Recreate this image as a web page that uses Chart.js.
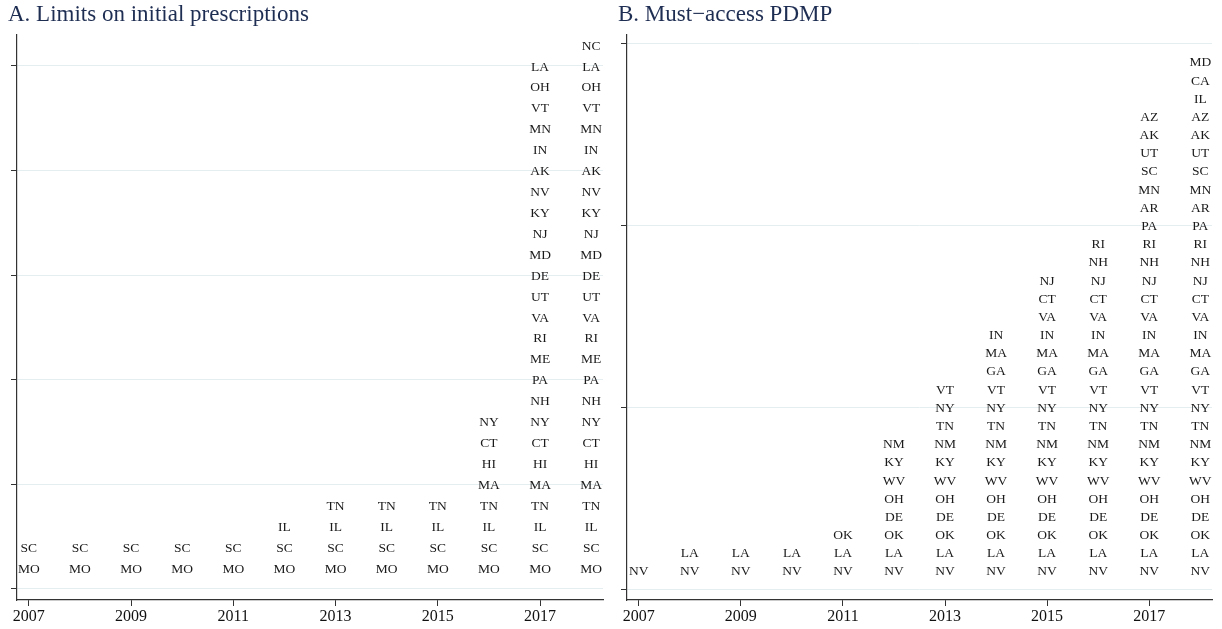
<!DOCTYPE html>
<html>
<head>
<meta charset="utf-8">
<script src="https://cdn.jsdelivr.net/npm/chart.js@4/dist/chart.umd.min.js"></script>
<style>
  body { margin: 0; background: white; }
  .wrap { display: flex; width: 1222px; height: 629px; }
  .panel { width: 611px; height: 629px; }
</style>
</head>
<body>
<div class="wrap">
  <div class="panel"><canvas id="chartA" width="611" height="629"></canvas></div>
  <div class="panel"><canvas id="chartB" width="611" height="629"></canvas></div>
</div>

<script>
  const years = [2007, 2008, 2009, 2010, 2011, 2012, 2013, 2014, 2015, 2016, 2017, 2018]
  const yearTicks = [2007, 2009, 2011, 2013, 2015, 2017]

  // stacking order of states (bottom to top) and how many are stacked each year
  const statesA = ['MO', 'SC', 'IL', 'TN', 'MA', 'HI', 'CT', 'NY', 'NH', 'PA', 'ME', 'RI', 'VA',
    'UT', 'DE', 'MD', 'NJ', 'KY', 'NV', 'AK', 'IN', 'MN', 'VT', 'OH', 'LA', 'NC']
  const countsA = [2, 2, 2, 2, 2, 3, 4, 4, 4, 8, 25, 26]
  const yTicksA = [0, 5, 10, 15, 20, 25]

  const statesB = ['NV', 'LA', 'OK', 'DE', 'OH', 'WV', 'KY', 'NM', 'TN', 'NY', 'VT', 'GA', 'MA',
    'IN', 'VA', 'CT', 'NJ', 'NH', 'RI', 'PA', 'AR', 'MN', 'SC', 'UT', 'AK', 'AZ', 'IL', 'CA', 'MD']
  const countsB = [1, 2, 2, 2, 3, 8, 11, 14, 17, 19, 26, 29]
  const yTicksB = [0, 10, 20, 30]

  const titleA = 'A. Limits on initial prescriptions'
  const titleB = 'B. Must\u2212access PDMP'

  const serif = '"Liberation Serif", "Times New Roman", serif'

  function buildPoints(states, counts) {
    const pts = []
    years.forEach((yr, i) => {
      for (let k = 0; k < counts[i]; k++) {
        pts.push({ x: yr, y: k + 1, s: states[k] })
      }
    })
    return pts
  }

  // writes each state abbreviation at its point position
  const stateLabels = {
    id: 'stateLabels',
    afterDatasetsDraw(chart) {
      const ctx = chart.ctx
      const meta = chart.getDatasetMeta(0)
      const data = chart.data.datasets[0].data
      ctx.save()
      ctx.font = '13.5px ' + serif
      ctx.fillStyle = '#1a1a1a'
      ctx.textAlign = 'center'
      ctx.textBaseline = 'middle'
      meta.data.forEach((el, i) => {
        ctx.fillText(data[i].s, el.x, el.y + 1)
      })
      ctx.restore()
    }
  }

  function makeChart(id, title, states, counts, yTicks, yMin, yMax, padLeft, padRight) {
    const ctx = document.getElementById(id).getContext('2d')
    return new Chart(ctx, {
      type: 'scatter',
      data: {
        datasets: [{
          data: buildPoints(states, counts),
          pointRadius: 0,
          pointHoverRadius: 0
        }]
      },
      options: {
        responsive: false,
        animation: false,
        devicePixelRatio: 1,
        events: [],
        layout: { padding: { left: padLeft, right: padRight, top: 0, bottom: 0 } },
        plugins: {
          legend: { display: false },
          tooltip: { enabled: false },
          title: {
            display: true,
            text: title,
            align: 'start',
            color: '#1e2d52',
            font: { family: serif, size: 23, weight: 'normal' },
            padding: { top: 1, bottom: 6 }
          }
        },
        scales: {
          x: {
            type: 'linear',
            min: 2006.77,
            max: 2018.23,
            afterBuildTicks: axis => { axis.ticks = yearTicks.map(v => ({ value: v })) },
            afterFit: axis => { axis.height = 29 },
            border: { color: '#333', width: 1.2 },
            grid: { drawOnChartArea: false, drawTicks: true, tickLength: 6, tickColor: '#333' },
            ticks: {
              color: '#111',
              padding: 1,
              maxRotation: 0,
              autoSkip: false,
              font: { family: serif, size: 16 },
              callback: v => String(v)
            }
          },
          y: {
            type: 'linear',
            min: yMin,
            max: yMax,
            afterBuildTicks: axis => { axis.ticks = yTicks.map(v => ({ value: v })) },
            afterFit: axis => { axis.width = 9 },
            border: { color: '#333', width: 1.2 },
            grid: { color: '#e4edf0', lineWidth: 1, drawTicks: true, tickLength: 6, tickColor: '#333' },
            ticks: { display: false }
          }
        }
      },
      plugins: [stateLabels]
    })
  }

  makeChart('chartA', titleA, statesA, countsA, yTicksA, -0.53, 26.5, 8, 8)
  makeChart('chartB', titleB, statesB, countsB, yTicksB, -0.6, 30.5, 7, 10)
</script>
</body>
</html>
